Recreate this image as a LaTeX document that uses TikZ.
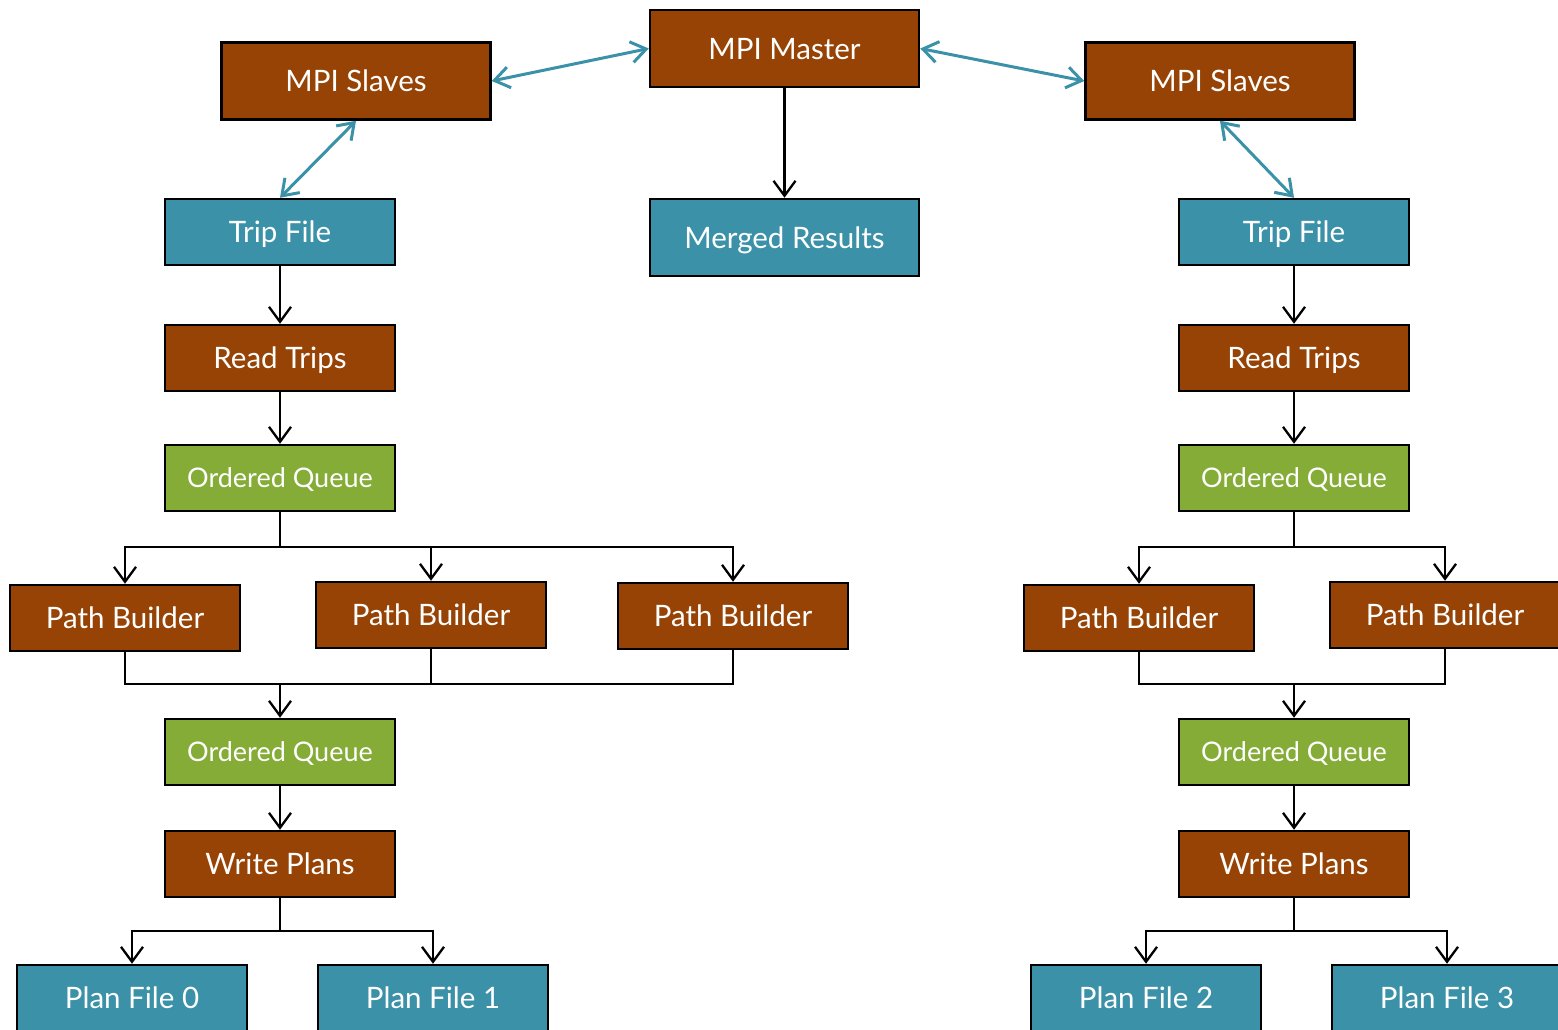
\documentclass[tikz,border=0pt]{standalone}
\usepackage{fontspec}
\setmainfont{Lato}
\usetikzlibrary{arrows.meta}
\definecolor{cbrown}{RGB}{150,67,5}
\definecolor{cteal}{RGB}{58,145,168}
\definecolor{cgreen}{RGB}{133,172,55}
\begin{document}
\begin{tikzpicture}[x=1pt,y=-1pt,
  box/.style={draw=black, line width=2.5pt, minimum width=230pt, minimum height=66pt, inner sep=0pt, text=white, font=\fontsize{29.5}{34}\selectfont, text height=24pt, text depth=3pt},
  bbox/.style={box, fill=cbrown},
  tbox/.style={box, fill=cteal},
  gbox/.style={box, fill=cgreen, font=\fontsize{27}{30}\selectfont, text height=22pt, text depth=3pt},
  wide/.style={minimum width=269pt, minimum height=77pt},
  arr/.style={line width=2.3pt, draw=black, -{Straight Barb[length=15pt,width=22pt,line width=2.3pt]}},
  link/.style={line width=2.3pt, draw=black},
  barr/.style={line width=3pt, draw=cteal, {Straight Barb[length=15pt,width=21pt,line width=3pt]}-{Straight Barb[length=15pt,width=21pt,line width=3pt]}}
]
\useasboundingbox (0,0) rectangle (1558,1029);
% top
\node[bbox,wide] (master) at (784.5,48.5) {MPI Master};
\node[bbox,wide] (slL) at (356,81) {MPI Slaves};
\node[bbox,wide] (slR) at (1220,81) {MPI Slaves};
\node[tbox,wide] (merged) at (784.5,237.5) {Merged Results};
% left column
\node[tbox] (tfL) at (280,232) {Trip File};
\node[bbox] (rtL) at (280,358) {Read Trips};
\node[gbox] (oqL) at (280,478) {Ordered Queue};
\node[bbox] (pbL1) at (125,618) {Path Builder};
\node[bbox] (pbL2) at (431,615) {Path Builder};
\node[bbox] (pbL3) at (733,616) {Path Builder};
\node[gbox] (oqL2) at (280,752) {Ordered Queue};
\node[bbox] (wpL) at (280,864) {Write Plans};
\node[tbox] (pf0) at (132,998) {Plan File 0};
\node[tbox] (pf1) at (433,998) {Plan File 1};
% right column
\node[tbox] (tfR) at (1294,232) {Trip File};
\node[bbox] (rtR) at (1294,358) {Read Trips};
\node[gbox] (oqR) at (1294,478) {Ordered Queue};
\node[bbox] (pbR1) at (1139,618) {Path Builder};
\node[bbox] (pbR2) at (1445,615) {Path Builder};
\node[gbox] (oqR2) at (1294,752) {Ordered Queue};
\node[bbox] (wpR) at (1294,864) {Write Plans};
\node[tbox] (pf2) at (1146,998) {Plan File 2};
\node[tbox] (pf3) at (1447,998) {Plan File 3};
% blue double arrows
\draw[barr] (slL.east) -- (master.west);
\draw[barr] (master.east) -- (slR.west);
\draw[barr] (slL.south) -- (tfL.north);
\draw[barr] (slR.south) -- (tfR.north);
% master to merged
\draw[arr] (master.south) -- (merged.north);
% left flow
\draw[arr] (tfL.south) -- (rtL.north);
\draw[arr] (rtL.south) -- (oqL.north);
\coordinate (sL) at (280,547);
\draw[link] (oqL.south) -- (sL);
\draw[arr] (sL) -| (pbL1.north);
\draw[arr] (sL) -| (pbL2.north);
\draw[arr] (sL) -| (pbL3.north);
\coordinate (mL) at (280,684);
\draw[link] (pbL1.south) |- (mL);
\draw[link] (pbL2.south) |- (mL);
\draw[link] (pbL3.south) |- (mL);
\draw[arr] (mL) -- (oqL2.north);
\draw[arr] (oqL2.south) -- (wpL.north);
\coordinate (wL) at (280,931);
\draw[link] (wpL.south) -- (wL);
\draw[arr] (wL) -| (pf0.north);
\draw[arr] (wL) -| (pf1.north);
% right flow
\draw[arr] (tfR.south) -- (rtR.north);
\draw[arr] (rtR.south) -- (oqR.north);
\coordinate (sR) at (1294,547);
\draw[link] (oqR.south) -- (sR);
\draw[arr] (sR) -| (pbR1.north);
\draw[arr] (sR) -| (pbR2.north);
\coordinate (mR) at (1294,684);
\draw[link] (pbR1.south) |- (mR);
\draw[link] (pbR2.south) |- (mR);
\draw[arr] (mR) -- (oqR2.north);
\draw[arr] (oqR2.south) -- (wpR.north);
\coordinate (wR) at (1294,931);
\draw[link] (wpR.south) -- (wR);
\draw[arr] (wR) -| (pf2.north);
\draw[arr] (wR) -| (pf3.north);
\end{tikzpicture}
\end{document}
